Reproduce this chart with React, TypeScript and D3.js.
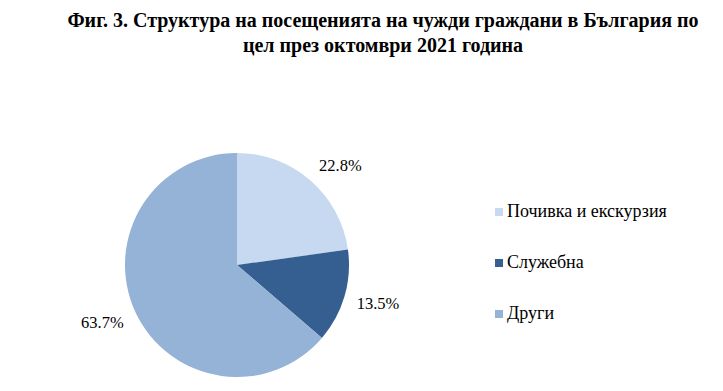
import { useEffect, useRef } from "react";
import * as d3 from "d3";

const titleLines = [
  "Фиг. 3. Структура на посещенията на чужди граждани в България по",
  "цел през октомври 2021 година",
];
const categories = ["Почивка и екскурзия", "Служебна", "Други"];
const shares = [22.8, 13.5, 63.7];
const colors = ["#c6d9f0", "#365f91", "#95b3d7"];

export default function App() {
  const svgRef = useRef<SVGSVGElement>(null);

  useEffect(() => {
    if (!svgRef.current) return;
    const svg = d3.select(svgRef.current);
    svg.selectAll("*").remove();

    const cx = 237;
    const cy = 265;
    const r = 112;
    const font = "'Liberation Serif', 'Times New Roman', serif";

    // title
    svg.append("g")
      .selectAll("text")
      .data(titleLines)
      .join("text")
      .attr("x", 383)
      .attr("y", (_, i) => 27 + i * 25)
      .attr("text-anchor", "middle")
      .attr("font-family", font)
      .attr("font-weight", "bold")
      .attr("font-size", 20)
      .attr("fill", "#000")
      .text(d => d);

    const data = categories.map((c, i) => ({ name: c, value: shares[i], color: colors[i] }));

    const pie = d3.pie<{ name: string; value: number; color: string }>()
      .sort(null)
      .value(d => d.value);
    const arcs = pie(data);
    const arc = d3.arc<d3.PieArcDatum<any>>().innerRadius(0).outerRadius(r);

    const g = svg.append("g").attr("transform", `translate(${cx},${cy})`);
    g.selectAll("path")
      .data(arcs)
      .join("path")
      .attr("d", arc as any)
      .attr("fill", d => d.data.color);

    // outside-end labels: nearest corner of the label box sits just outside the arc
    const gap = 12;
    const lw = 44;
    const lh = 12;
    const clamp = (v: number) => Math.max(-1, Math.min(1, v * 2));
    const labelPos = (d: d3.PieArcDatum<any>) => {
      const a = (d.startAngle + d.endAngle) / 2;
      const dx = Math.sin(a);
      const dy = -Math.cos(a);
      return [
        (r + gap) * dx + (lw / 2) * clamp(dx),
        (r + gap) * dy + (lh / 2) * clamp(dy),
      ];
    };
    g.selectAll("text")
      .data(arcs)
      .join("text")
      .attr("x", d => labelPos(d)[0])
      .attr("y", d => labelPos(d)[1] + 6)
      .attr("text-anchor", "middle")
      .attr("font-family", font)
      .attr("font-size", 16.5)
      .attr("fill", "#000")
      .text(d => `${d.data.value.toFixed(1)}%`);

    // legend
    const ly = d3.scalePoint<string>().domain(categories).range([212, 314]);
    const legend = svg.append("g")
      .selectAll("g")
      .data(data)
      .join("g")
      .attr("transform", d => `translate(495,${ly(d.name)})`);
    legend.append("rect")
      .attr("x", 0)
      .attr("y", -4)
      .attr("width", 8)
      .attr("height", 8)
      .attr("fill", d => d.color);
    legend.append("text")
      .attr("x", 12)
      .attr("y", 5)
      .attr("font-family", font)
      .attr("font-size", 18)
      .attr("fill", "#000")
      .text(d => d.name);
  }, []);

  return (
    <div style={{ position: "absolute", left: 0, top: 0, width: 723, height: 391, background: "#fff" }}>
      <svg ref={svgRef} width={723} height={391} style={{ display: "block" }} />
    </div>
  );
}
